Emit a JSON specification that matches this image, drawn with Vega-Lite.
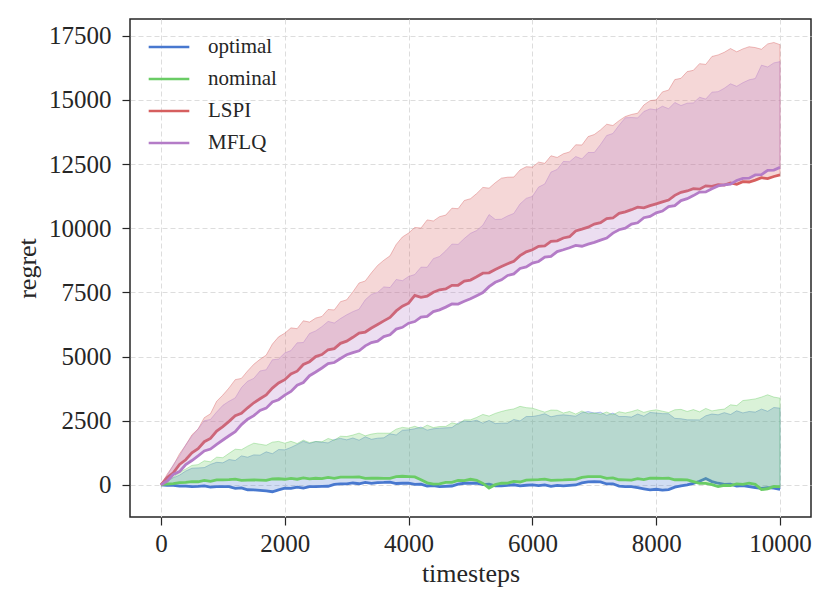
{
  "$schema": "https://vega.github.io/schema/vega-lite/v6.json",
  "autosize": {"type": "none"},
  "width": 681,
  "height": 498,
  "padding": {"left": 130, "top": 19, "right": 19, "bottom": 86},
  "background": "white",
  "data": {
    "values": [
      {"t": 0, "o": 0, "oh": 0, "n": 0, "nh": 0, "l": 0, "lh": 0, "m": 0, "mh": 0},
      {"t": 100, "o": -18, "oh": 140, "n": 36, "nh": 176, "l": 290, "lh": 420, "m": 150, "mh": 360},
      {"t": 200, "o": -16, "oh": 280, "n": 47, "nh": 302, "l": 470, "lh": 760, "m": 405, "mh": 790},
      {"t": 300, "o": -49, "oh": 380, "n": 88, "nh": 498, "l": 800, "lh": 1210, "m": 520, "mh": 1130},
      {"t": 400, "o": -47, "oh": 540, "n": 99, "nh": 614, "l": 980, "lh": 1550, "m": 795, "mh": 1560},
      {"t": 500, "o": -65, "oh": 650, "n": 130, "nh": 760, "l": 1250, "lh": 1950, "m": 950, "mh": 1900},
      {"t": 600, "o": -55, "oh": 662, "n": 123, "nh": 790, "l": 1414, "lh": 2180, "m": 1130, "mh": 2180},
      {"t": 700, "o": -35, "oh": 674, "n": 176, "nh": 940, "l": 1683, "lh": 2620, "m": 1325, "mh": 2500},
      {"t": 800, "o": -85, "oh": 800, "n": 139, "nh": 900, "l": 1812, "lh": 2770, "m": 1395, "mh": 2550},
      {"t": 900, "o": -70, "oh": 880, "n": 197, "nh": 1080, "l": 2101, "lh": 3260, "m": 1580, "mh": 2840},
      {"t": 1000, "o": -65, "oh": 860, "n": 195, "nh": 1060, "l": 2270, "lh": 3500, "m": 1750, "mh": 3100},
      {"t": 1100, "o": -66, "oh": 990, "n": 205, "nh": 1230, "l": 2476, "lh": 3780, "m": 1915, "mh": 3260},
      {"t": 1200, "o": -132, "oh": 950, "n": 225, "nh": 1390, "l": 2697, "lh": 4100, "m": 2075, "mh": 3390},
      {"t": 1300, "o": -113, "oh": 1130, "n": 175, "nh": 1370, "l": 2793, "lh": 4150, "m": 2350, "mh": 3790},
      {"t": 1400, "o": -189, "oh": 1080, "n": 190, "nh": 1510, "l": 3004, "lh": 4440, "m": 2560, "mh": 4040},
      {"t": 1500, "o": -195, "oh": 1170, "n": 195, "nh": 1625, "l": 3200, "lh": 4700, "m": 2700, "mh": 4150},
      {"t": 1600, "o": -210, "oh": 1159, "n": 185, "nh": 1585, "l": 3355, "lh": 4892, "m": 2900, "mh": 4438},
      {"t": 1700, "o": -235, "oh": 1288, "n": 175, "nh": 1545, "l": 3505, "lh": 5054, "m": 2990, "mh": 4486},
      {"t": 1800, "o": -265, "oh": 1217, "n": 230, "nh": 1665, "l": 3770, "lh": 5486, "m": 3230, "mh": 4874},
      {"t": 1900, "o": -190, "oh": 1376, "n": 240, "nh": 1695, "l": 3970, "lh": 5768, "m": 3320, "mh": 4902},
      {"t": 2000, "o": -130, "oh": 1365, "n": 220, "nh": 1625, "l": 4100, "lh": 5910, "m": 3500, "mh": 5140},
      {"t": 2100, "o": -137, "oh": 1460, "n": 253, "nh": 1698, "l": 4320, "lh": 6118, "m": 3640, "mh": 5232},
      {"t": 2200, "o": -84, "oh": 1575, "n": 221, "nh": 1611, "l": 4430, "lh": 6086, "m": 3885, "mh": 5534},
      {"t": 2300, "o": -121, "oh": 1700, "n": 274, "nh": 1744, "l": 4690, "lh": 6394, "m": 3990, "mh": 5546},
      {"t": 2400, "o": -63, "oh": 1615, "n": 232, "nh": 1647, "l": 4800, "lh": 6342, "m": 4255, "mh": 5898},
      {"t": 2500, "o": -65, "oh": 1690, "n": 260, "nh": 1690, "l": 5000, "lh": 6500, "m": 4400, "mh": 6000},
      {"t": 2600, "o": -59, "oh": 1663, "n": 248, "nh": 1679, "l": 5080, "lh": 6562, "m": 4554, "mh": 6165},
      {"t": 2700, "o": -53, "oh": 1636, "n": 296, "nh": 1808, "l": 5265, "lh": 6834, "m": 4723, "mh": 6370},
      {"t": 2800, "o": 18, "oh": 1769, "n": 254, "nh": 1737, "l": 5310, "lh": 6816, "m": 4767, "mh": 6305},
      {"t": 2900, "o": 44, "oh": 1812, "n": 307, "nh": 1896, "l": 5515, "lh": 7138, "m": 4926, "mh": 6480},
      {"t": 3000, "o": 40, "oh": 1755, "n": 300, "nh": 1885, "l": 5600, "lh": 7210, "m": 5070, "mh": 6625},
      {"t": 3100, "o": 75, "oh": 1828, "n": 302, "nh": 1941, "l": 5750, "lh": 7518, "m": 5151, "mh": 6750},
      {"t": 3200, "o": 45, "oh": 1741, "n": 314, "nh": 2017, "l": 5915, "lh": 7866, "m": 5227, "mh": 6845},
      {"t": 3300, "o": 100, "oh": 1874, "n": 256, "nh": 1913, "l": 5955, "lh": 7944, "m": 5418, "mh": 7210},
      {"t": 3400, "o": 60, "oh": 1777, "n": 263, "nh": 1979, "l": 6110, "lh": 8262, "m": 5544, "mh": 7425},
      {"t": 3500, "o": 90, "oh": 1820, "n": 260, "nh": 2015, "l": 6250, "lh": 8550, "m": 5600, "mh": 7500},
      {"t": 3600, "o": 95, "oh": 1835, "n": 258, "nh": 2014, "l": 6391, "lh": 8752, "m": 5780, "mh": 7714},
      {"t": 3700, "o": 110, "oh": 1990, "n": 256, "nh": 2013, "l": 6527, "lh": 8924, "m": 5850, "mh": 7688},
      {"t": 3800, "o": 55, "oh": 1945, "n": 319, "nh": 2172, "l": 6778, "lh": 9366, "m": 6070, "mh": 8002},
      {"t": 3900, "o": 65, "oh": 2130, "n": 337, "nh": 2241, "l": 6964, "lh": 9658, "m": 6140, "mh": 7956},
      {"t": 4000, "o": 65, "oh": 2145, "n": 325, "nh": 2210, "l": 7080, "lh": 9810, "m": 6300, "mh": 8120},
      {"t": 4100, "o": 19, "oh": 2188, "n": 310, "nh": 2283, "l": 7384, "lh": 10028, "m": 6364, "mh": 8196},
      {"t": 4200, "o": 33, "oh": 2251, "n": 200, "nh": 2196, "l": 7308, "lh": 10006, "m": 6533, "mh": 8482},
      {"t": 4300, "o": -43, "oh": 2134, "n": 80, "nh": 2329, "l": 7352, "lh": 10324, "m": 6562, "mh": 8478},
      {"t": 4400, "o": -24, "oh": 2187, "n": 30, "nh": 2232, "l": 7506, "lh": 10282, "m": 6751, "mh": 8814},
      {"t": 4500, "o": -65, "oh": 2210, "n": 40, "nh": 2275, "l": 7600, "lh": 10450, "m": 6820, "mh": 8900},
      {"t": 4600, "o": -54, "oh": 2222, "n": 101, "nh": 2277, "l": 7636, "lh": 10510, "m": 6926, "mh": 9120},
      {"t": 4700, "o": -43, "oh": 2234, "n": 97, "nh": 2419, "l": 7777, "lh": 10780, "m": 7047, "mh": 9380},
      {"t": 4800, "o": 33, "oh": 2406, "n": 178, "nh": 2361, "l": 7778, "lh": 10760, "m": 7043, "mh": 9370},
      {"t": 4900, "o": 64, "oh": 2488, "n": 164, "nh": 2533, "l": 7939, "lh": 11080, "m": 7154, "mh": 9600},
      {"t": 5000, "o": 65, "oh": 2470, "n": 220, "nh": 2535, "l": 7980, "lh": 11150, "m": 7250, "mh": 9800},
      {"t": 5100, "o": 69, "oh": 2517, "n": 180, "nh": 2630, "l": 8106, "lh": 11350, "m": 7373, "mh": 9910},
      {"t": 5200, "o": 8, "oh": 2404, "n": 60, "nh": 2745, "l": 8247, "lh": 11590, "m": 7491, "mh": 10120},
      {"t": 5300, "o": 32, "oh": 2511, "n": -120, "nh": 2680, "l": 8263, "lh": 11560, "m": 7724, "mh": 10530},
      {"t": 5400, "o": -39, "oh": 2388, "n": 10, "nh": 2785, "l": 8394, "lh": 11770, "m": 7892, "mh": 10340},
      {"t": 5500, "o": -40, "oh": 2405, "n": 65, "nh": 2860, "l": 8510, "lh": 11950, "m": 7990, "mh": 10350},
      {"t": 5600, "o": -22, "oh": 2407, "n": 71, "nh": 2920, "l": 8615, "lh": 11986, "m": 8160, "mh": 10478},
      {"t": 5700, "o": 6, "oh": 2549, "n": 137, "nh": 2960, "l": 8715, "lh": 11992, "m": 8220, "mh": 10576},
      {"t": 5800, "o": -36, "oh": 2491, "n": 113, "nh": 3060, "l": 8930, "lh": 12268, "m": 8430, "mh": 10944},
      {"t": 5900, "o": -13, "oh": 2663, "n": 184, "nh": 3010, "l": 9080, "lh": 12394, "m": 8490, "mh": 11162},
      {"t": 6000, "o": 0, "oh": 2665, "n": 195, "nh": 2990, "l": 9160, "lh": 12380, "m": 8640, "mh": 11240},
      {"t": 6100, "o": -28, "oh": 2708, "n": 205, "nh": 2912, "l": 9292, "lh": 12574, "m": 8704, "mh": 11602},
      {"t": 6200, "o": 4, "oh": 2771, "n": 225, "nh": 2834, "l": 9314, "lh": 12528, "m": 8873, "mh": 11724},
      {"t": 6300, "o": -54, "oh": 2654, "n": 175, "nh": 2916, "l": 9486, "lh": 12822, "m": 8902, "mh": 12186},
      {"t": 6400, "o": -17, "oh": 2707, "n": 190, "nh": 2908, "l": 9508, "lh": 12756, "m": 9091, "mh": 12288},
      {"t": 6500, "o": -40, "oh": 2730, "n": 195, "nh": 2800, "l": 9620, "lh": 12900, "m": 9160, "mh": 12600},
      {"t": 6600, "o": -21, "oh": 2704, "n": 206, "nh": 2860, "l": 9668, "lh": 12970, "m": 9238, "mh": 12590},
      {"t": 6700, "o": -2, "oh": 2678, "n": 217, "nh": 2760, "l": 9896, "lh": 13250, "m": 9331, "mh": 12790},
      {"t": 6800, "o": 82, "oh": 2812, "n": 293, "nh": 2880, "l": 9964, "lh": 13240, "m": 9299, "mh": 12700},
      {"t": 6900, "o": 121, "oh": 2856, "n": 324, "nh": 2770, "l": 10042, "lh": 13570, "m": 9382, "mh": 12950},
      {"t": 7000, "o": 130, "oh": 2800, "n": 325, "nh": 2800, "l": 10160, "lh": 13650, "m": 9450, "mh": 12950},
      {"t": 7100, "o": 116, "oh": 2833, "n": 324, "nh": 2750, "l": 10216, "lh": 13830, "m": 9535, "mh": 13260},
      {"t": 7200, "o": 37, "oh": 2706, "n": 258, "nh": 2840, "l": 10377, "lh": 14050, "m": 9615, "mh": 13610},
      {"t": 7300, "o": 43, "oh": 2799, "n": 277, "nh": 2730, "l": 10398, "lh": 14000, "m": 9810, "mh": 13690},
      {"t": 7400, "o": -46, "oh": 2662, "n": 201, "nh": 2850, "l": 10579, "lh": 14190, "m": 9940, "mh": 14010},
      {"t": 7500, "o": -65, "oh": 2665, "n": 195, "nh": 2800, "l": 10640, "lh": 14350, "m": 10000, "mh": 14300},
      {"t": 7600, "o": -68, "oh": 2642, "n": 188, "nh": 2855, "l": 10722, "lh": 14430, "m": 10160, "mh": 14312},
      {"t": 7700, "o": -110, "oh": 2759, "n": 241, "nh": 2930, "l": 10819, "lh": 14480, "m": 10210, "mh": 14294},
      {"t": 7800, "o": -150, "oh": 2676, "n": 204, "nh": 2825, "l": 10791, "lh": 14800, "m": 10410, "mh": 14546},
      {"t": 7900, "o": -190, "oh": 2823, "n": 262, "nh": 2890, "l": 10878, "lh": 14970, "m": 10460, "mh": 14648},
      {"t": 8000, "o": -170, "oh": 2800, "n": 260, "nh": 2925, "l": 10950, "lh": 15000, "m": 10600, "mh": 14610},
      {"t": 8100, "o": -200, "oh": 2777, "n": 257, "nh": 2872, "l": 11025, "lh": 15310, "m": 10670, "mh": 14752},
      {"t": 8200, "o": -180, "oh": 2774, "n": 264, "nh": 2819, "l": 11095, "lh": 15380, "m": 10845, "mh": 14654},
      {"t": 8300, "o": -90, "oh": 2591, "n": 201, "nh": 2926, "l": 11280, "lh": 15790, "m": 10880, "mh": 14896},
      {"t": 8400, "o": -40, "oh": 2578, "n": 203, "nh": 2943, "l": 11400, "lh": 15840, "m": 11075, "mh": 14778},
      {"t": 8500, "o": 0, "oh": 2535, "n": 195, "nh": 2860, "l": 11450, "lh": 16100, "m": 11150, "mh": 14870},
      {"t": 8600, "o": 60, "oh": 2534, "n": 128, "nh": 2933, "l": 11540, "lh": 16150, "m": 11270, "mh": 14880},
      {"t": 8700, "o": 140, "oh": 2533, "n": 61, "nh": 2846, "l": 11520, "lh": 16410, "m": 11405, "mh": 15100},
      {"t": 8800, "o": 250, "oh": 2692, "n": 59, "nh": 2979, "l": 11650, "lh": 16380, "m": 11415, "mh": 15030},
      {"t": 8900, "o": 130, "oh": 2761, "n": 12, "nh": 2882, "l": 11630, "lh": 16690, "m": 11540, "mh": 15300},
      {"t": 9000, "o": 65, "oh": 2730, "n": -65, "nh": 2925, "l": 11700, "lh": 16750, "m": 11650, "mh": 15320},
      {"t": 9100, "o": 19, "oh": 2816, "n": -14, "nh": 2953, "l": 11680, "lh": 16854, "m": 11685, "mh": 15452},
      {"t": 9200, "o": 33, "oh": 2742, "n": -28, "nh": 3121, "l": 11765, "lh": 16998, "m": 11715, "mh": 15624},
      {"t": 9300, "o": -43, "oh": 2888, "n": 43, "nh": 3089, "l": 11710, "lh": 16872, "m": 11860, "mh": 15526},
      {"t": 9400, "o": -24, "oh": 2804, "n": 19, "nh": 3287, "l": 11815, "lh": 16986, "m": 11940, "mh": 15668},
      {"t": 9500, "o": -65, "oh": 2860, "n": 65, "nh": 3315, "l": 11800, "lh": 17070, "m": 11950, "mh": 15780},
      {"t": 9600, "o": -101, "oh": 2836, "n": 20, "nh": 3350, "l": 11876, "lh": 17036, "m": 12074, "mh": 15830},
      {"t": 9700, "o": -137, "oh": 2952, "n": -180, "nh": 3420, "l": 11967, "lh": 16972, "m": 12088, "mh": 16350},
      {"t": 9800, "o": -108, "oh": 2868, "n": -150, "nh": 3510, "l": 11933, "lh": 17178, "m": 12252, "mh": 16280},
      {"t": 9900, "o": -124, "oh": 3014, "n": -60, "nh": 3420, "l": 12014, "lh": 17234, "m": 12266, "mh": 16440},
      {"t": 10000, "o": -170, "oh": 2990, "n": -65, "nh": 3380, "l": 12080, "lh": 17150, "m": 12370, "mh": 16490}
    ]
  },
  "encoding": {
    "x": {
      "field": "t",
      "type": "quantitative",
      "title": "timesteps",
      "scale": {"domain": [-500, 10500], "nice": false, "zero": false},
      "axis": {"values": [0, 2000, 4000, 6000, 8000, 10000], "format": "d"}
    }
  },
  "layer": [
    {
      "mark": {"type": "area", "color": "#4878CF", "fillOpacity": 0.25, "stroke": "#4878CF", "strokeWidth": 0.8, "strokeOpacity": 0.5},
      "encoding": {
        "y": {"field": "o", "type": "quantitative", "title": "regret", "scale": {"domain": [-1250, 18150], "nice": false, "zero": false}, "axis": {"values": [0, 2500, 5000, 7500, 10000, 12500, 15000, 17500], "format": "d"}},
        "y2": {"field": "oh"}
      }
    },
    {
      "mark": {"type": "line", "strokeWidth": 2.8},
      "encoding": {
        "y": {"field": "o", "type": "quantitative", "title": "regret"},
        "color": {"datum": "optimal", "type": "nominal", "title": null, "scale": {"domain": ["optimal", "nominal", "LSPI", "MFLQ"], "range": ["#4878CF", "#6ACC65", "#D65F5F", "#B47CC7"]}}
      }
    },
    {
      "mark": {"type": "area", "color": "#6ACC65", "fillOpacity": 0.25, "stroke": "#6ACC65", "strokeWidth": 0.8, "strokeOpacity": 0.5},
      "encoding": {
        "y": {"field": "n", "type": "quantitative", "title": "regret"},
        "y2": {"field": "nh"}
      }
    },
    {
      "mark": {"type": "line", "strokeWidth": 2.8},
      "encoding": {
        "y": {"field": "n", "type": "quantitative", "title": "regret"},
        "color": {"datum": "nominal", "type": "nominal", "title": null}
      }
    },
    {
      "mark": {"type": "area", "color": "#D65F5F", "fillOpacity": 0.25, "stroke": "#D65F5F", "strokeWidth": 0.8, "strokeOpacity": 0.5},
      "encoding": {
        "y": {"field": "l", "type": "quantitative", "title": "regret"},
        "y2": {"field": "lh"}
      }
    },
    {
      "mark": {"type": "line", "strokeWidth": 2.8},
      "encoding": {
        "y": {"field": "l", "type": "quantitative", "title": "regret"},
        "color": {"datum": "LSPI", "type": "nominal", "title": null}
      }
    },
    {
      "mark": {"type": "area", "color": "#B47CC7", "fillOpacity": 0.25, "stroke": "#B47CC7", "strokeWidth": 0.8, "strokeOpacity": 0.5},
      "encoding": {
        "y": {"field": "m", "type": "quantitative", "title": "regret"},
        "y2": {"field": "mh"}
      }
    },
    {
      "mark": {"type": "line", "strokeWidth": 2.8},
      "encoding": {
        "y": {"field": "m", "type": "quantitative", "title": "regret"},
        "color": {"datum": "MFLQ", "type": "nominal", "title": null}
      }
    }
  ],
  "config": {
    "view": {"stroke": "#262626", "strokeWidth": 1.5},
    "font": "Liberation Serif",
    "axis": {
      "domain": false,
      "grid": true,
      "gridColor": "#dddddd",
      "gridDash": [5, 3],
      "gridWidth": 1,
      "tickColor": "#262626",
      "tickSize": 8,
      "tickWidth": 1.2,
      "labelFont": "Liberation Serif",
      "labelFontSize": 25,
      "labelColor": "#262626",
      "titleFont": "Liberation Serif",
      "titleFontSize": 26,
      "titleFontWeight": "normal",
      "titleColor": "#262626"
    },
    "axisX": {"labelPadding": 6, "titlePadding": 4},
    "axisY": {"labelPadding": 11, "titlePadding": 8},
    "legend": {
      "orient": "none",
      "legendX": 17,
      "legendY": 6,
      "padding": 0,
      "symbolType": "stroke",
      "symbolSize": 1650,
      "symbolStrokeWidth": 2.5,
      "labelFont": "Liberation Serif",
      "labelFontSize": 21,
      "labelColor": "#262626",
      "labelOffset": 17,
      "rowPadding": 0
    }
  }
}
